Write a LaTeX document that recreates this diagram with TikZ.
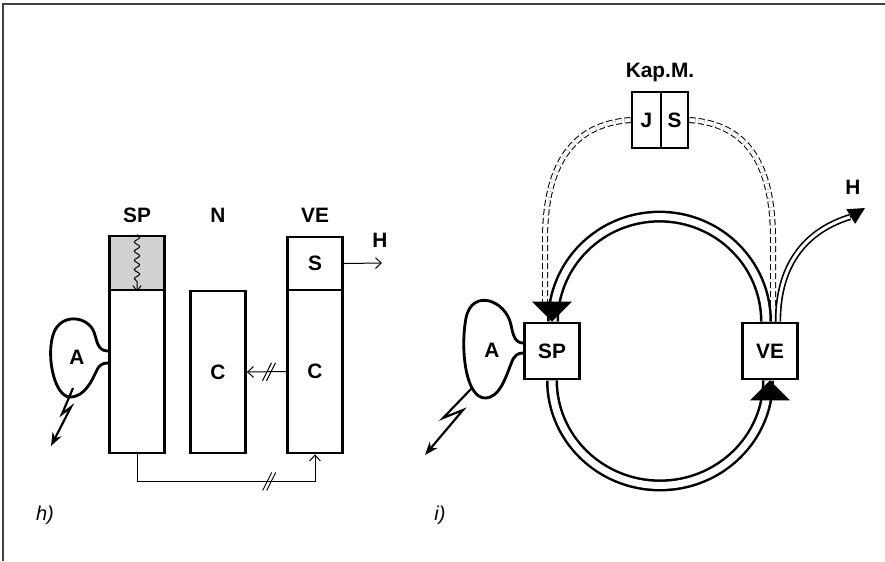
\documentclass[tikz,border=0pt]{standalone}
\usepackage{fontspec}
\setmainfont{Liberation Sans}
\usetikzlibrary{arrows.meta,decorations.pathmorphing}

\begin{document}
\begin{tikzpicture}[x=0.6pt,y=-0.6pt,
  lbl/.style={font=\bfseries\fontsize{12.5}{14}\selectfont},
  tag/.style={font=\itshape\fontsize{12}{14}\selectfont},
  col/.style={draw,line width=1.7pt,inner sep=0pt,minimum width=33pt,lbl},
  box/.style={draw,line width=1.7pt,inner sep=0pt,minimum width=33pt,minimum height=33.6pt,lbl},
  thinarr/.style={line width=0.6pt,-{Straight Barb[length=3.5pt,width=6.5pt]}},
  ring/.style={double,double distance=4.2pt,line width=1.5pt},
  ctrl/.style={double,double distance=2.4pt,line width=0.6pt,dash pattern=on 3.6pt off 1.8pt},
  branch/.style={double,double distance=1.8pt,line width=1pt},
  bolt/.style={line width=1.3pt,-{Stealth[length=8pt,width=6pt]}},
  frame/.style={draw=black!75,line width=1pt}]
\useasboundingbox (0,0) rectangle (885,561);
\draw[frame] (885,4) -- (3,4) -- (3,561);

% h) columns
\node[lbl] (spName) at (137,215) {SP};
\node[lbl] (nName) at (218,215) {N};
\node[lbl] (veName) at (315,215) {VE};
\node[col,fill=black!18,minimum height=32.4pt] (spTop) at (137,263) {};
\node[col,minimum height=97.8pt] (spBot) at (137,371.5) {};
\node[col,minimum height=97.2pt] (nCol) at (218,372) {C};
\node[col,minimum height=31.8pt] (veS) at (315,263.5) {S};
\node[col,minimum height=97.8pt] (veC) at (315,371.5) {C};
\node[lbl] (hLeft) at (380,240) {H};
\coordinate (hLeftEnd) at (382,263);

\draw[line width=0.6pt,-{Straight Barb[length=3pt,width=5pt]},decorate,
  decoration={snake,amplitude=1.6pt,segment length=5.5pt,post length=4pt}]
  (spTop.north) -- (spTop.south);
\draw[thinarr] (veS.east) -- (hLeftEnd);
\draw[thinarr] (veC.west) -- coordinate[pos=0.45] (cutA) (nCol.east);
\draw[thinarr] (spBot.south) -- ++(0,27) -| coordinate[pos=0.37] (cutB) (veC.south);
\foreach \c in {cutA,cutB}
  \draw[line width=0.6pt] ([shift={(-6,9)}]\c) -- ++(9,-18)
                          ([shift={(-2,9)}]\c) -- ++(9,-18);

% blob A, left
\draw[line width=1.7pt] (spBot.west |- 0,351) .. controls (97,351) and (97,340) .. (94,332)
  .. controls (88,316) and (60,312) .. (53,335)
  .. controls (46,358) and (55,397) .. (70,397)
  .. controls (85,397) and (92,380) .. (96,372)
  .. controls (99,365) and (102,363) .. (spBot.west |- 0,363);
\node[lbl] (aLeft) at (77,357) {A};
\draw[bolt] (73,388) -- (62,414) -- (71,407) -- (51,446);
\node[tag] (hTag) at (45,515) {h)};

% i) ring
\node[lbl] (kapLbl) at (660,72) {Kap.M.};
\node[box,minimum width=17.4pt] (jBox) at (646.5,120) {J};
\node[box,minimum width=16.2pt] (sBox) at (674.5,120) {S};
\node[box] (spBox) at (552,351) {SP};
\node[box] (veBox) at (770,351) {VE};
\node[lbl] (hRight) at (853,187) {H};

\draw[ctrl] (jBox.west) .. controls (572,124) and (545,165) .. (545,240) -- (545,308);
\draw[ctrl] (sBox.east) .. controls (748,124) and (773,165) .. (773,240) -- (veBox.north -| 773,0);
\draw[ring] ([xshift=-2.4pt]veBox.north) arc[start angle=0,end angle=180,x radius=63.9pt,y radius=63pt];
\draw[ring] (spBox.south) arc[start angle=180,end angle=360,x radius=64.8pt,y radius=63pt];
\fill (spBox.north) -- ++(-20,-20) -- ++(40,0) -- cycle;
\fill (veBox.south) -- ++(-20,20) -- ++(40,0) -- cycle;

\coordinate (hEnd) at (850,217);
\coordinate (hTip) at (865,208);
\draw[branch] ([xshift=4.8pt]veBox.north) .. controls (778,262) and (808,230) .. (hEnd);
\draw[line width=1pt,-{Triangle[length=10pt,width=10pt]}] (hEnd) -- (hTip);

% blob A, right
\draw[line width=1.7pt] (spBox.west |- 0,343) .. controls (515,343) and (513,335) .. (511,325)
  .. controls (506,300) and (472,288) .. (466,318)
  .. controls (460,350) and (466,398) .. (485,398)
  .. controls (500,398) and (506,376) .. (511,364)
  .. controls (514,355) and (518,353) .. (spBox.west |- 0,353);
\node[lbl] (aRight) at (492,350) {A};
\draw[bolt] (472,388) -- (443,418) -- (463,410) -- (425,455);
\node[tag] (iTag) at (440,515) {i)};
\end{tikzpicture}
\end{document}
